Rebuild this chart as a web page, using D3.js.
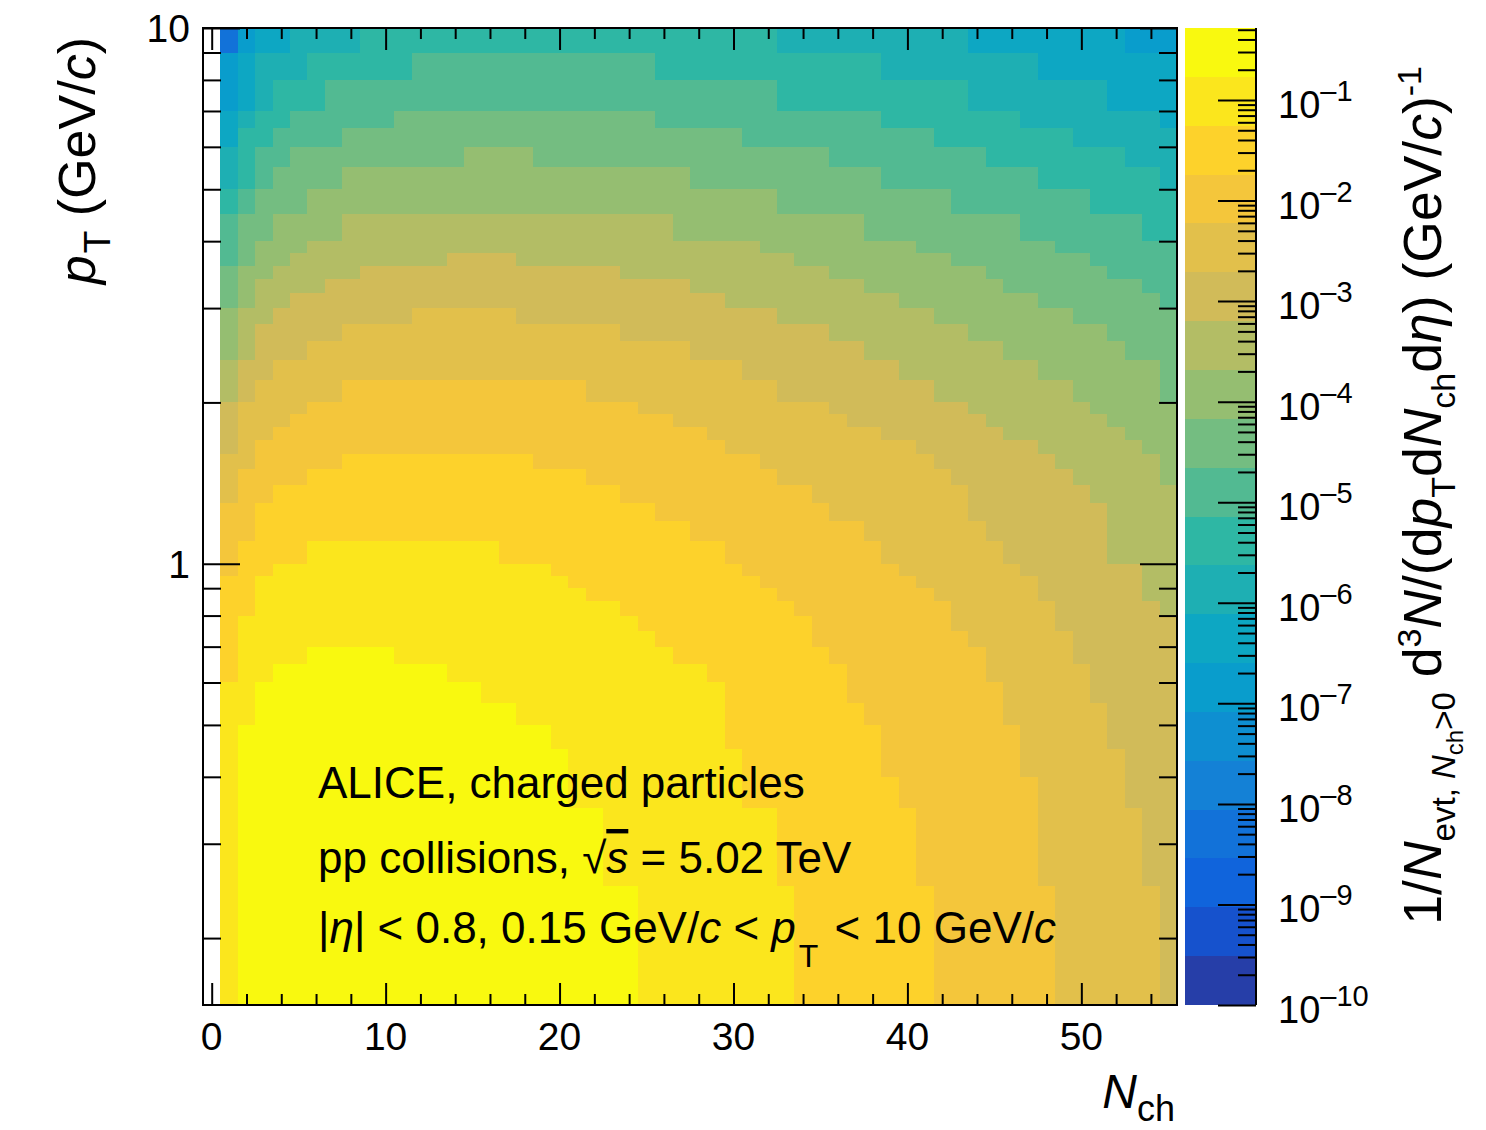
<!DOCTYPE html>
<html><head><meta charset="utf-8">
<script src="https://cdn.jsdelivr.net/npm/d3@7"></script>
<style>
body{margin:0;background:#fff}
text{font-family:"Liberation Sans",Arial,Helvetica,sans-serif;fill:#000}
</style>
</head><body>
<svg id="chart" width="1486" height="1130"></svg>
<script>
// ---------------- DATA ----------------
// Nch bins (integer, width 1); Nch = 0 bin is empty
const nchBins = [1,2,3,4,5,6,7,8,9,10,11,12,13,14,15,16,17,18,19,20,21,22,23,24,25,26,27,28,29,30,31,32,33,34,35,36,37,38,39,40,41,42,43,44,45,46,47,48,49,50,51,52,53,54,55];
// pT bin edges (GeV/c)
const ptEdges = [0.15,0.2,0.25,0.3,0.35,0.4,0.45,0.5,0.55,0.6,0.65,0.7,0.75,0.8,0.85,0.9,0.95,1.0,1.1,1.2,1.3,1.4,1.5,1.6,1.7,1.8,1.9,2.0,2.2,2.4,2.6,2.8,3.0,3.2,3.4,3.6,3.8,4.0,4.5,5.0,5.5,6.0,6.5,7.0,8.0,9.0,10.0];
// Yield per cell, read off the picture as its colour level (0..19 = 20 log-spaced contour levels),
// run-length coded along Nch = 1..55 : "<level><count>", one string per pT bin, lowest pT first.
const levelRows = [
 "i1 j23 i9 h8 g7 f6 e1",
 "i1 j23 i9 h8 g7 f6 e1",
 "i1 j21 i10 h8 g7 f6 e2",
 "i1 j21 i10 h8 g7 f6 e2",
 "i1 j19 i10 h9 g8 f5 e3",
 "i1 j19 i10 h8 g8 f6 e3",
 "i1 j18 i10 h9 g8 f5 e4",
 "i2 j15 i12 h8 g8 f6 e4",
 "i2 j13 i14 h7 g9 f5 e5",
 "h1 i2 j10 i15 h8 g8 f6 e5",
 "h1 i4 j5 i16 h9 g9 f5 e6",
 "h1 i24 h9 g9 f6 e6",
 "h1 i23 h10 g8 f6 e7",
 "h2 i21 h10 g9 f6 e6 d1",
 "h2 i19 h11 g9 f6 e6 d2",
 "h2 i18 h11 g9 f7 e6 d2",
 "g1 h2 i16 h11 g9 f7 e7 d2",
 "g1 h4 i11 h13 g9 f7 e6 d4",
 "g2 h25 g10 f7 e7 d4",
 "g2 h23 g10 f8 e8 d4",
 "f1 g2 h20 g11 f9 e7 d5",
 "f1 g4 h16 g11 f10 e7 d5 c1",
 "f2 g5 h11 g13 f10 e7 d6 c1",
 "e1 f1 g27 f11 e7 d6 c2",
 "e1 f2 g25 f10 e7 d7 c3",
 "e1 f3 g22 f10 e8 d7 c4",
 "e1 f4 g19 f11 e8 d7 c5",
 "d1 e1 f5 g14 f11 e9 d8 c5 b1",
 "d1 e2 f27 e9 d8 c7 b1",
 "c1 d1 e3 f22 e10 d8 c7 b3",
 "c1 d1 e5 f16 e12 d8 c8 b4",
 "c1 d2 e8 f6 e15 d9 c8 b6",
 "b1 c1 d2 e25 d10 c8 b7 a1",
 "b1 c1 d4 e21 d10 c8 b8 a2",
 "b1 c2 d5 e15 d12 c9 b7 a4",
 "a1 b1 c2 d9 e4 d16 c9 b8 a5",
 "a1 b1 c3 d26 c9 b8 a7",
 "a1 b2 c4 d19 c11 b9 a7 92",
 "91 a1 b3 c27 b10 a8 95",
 "81 91 a1 b4 c20 b11 a9 97 81",
 "81 91 a2 b10 c4 b17 a9 98 83",
 "71 92 a4 b23 a11 98 86",
 "71 81 92 a6 b15 a13 98 88 71",
 "61 71 81 93 a26 911 88 74",
 "61 71 83 96 a14 913 89 78",
 "31 61 72 84 924 811 79 63"
];
// colour (z) axis
const zMin = 1e-10, zMax = 0.52, nContours = 20;
const zMajorTicks = [1e-10,1e-9,1e-8,1e-7,1e-6,1e-5,1e-4,1e-3,1e-2,1e-1];
const zMajorExp   = ["10","9","8","7","6","5","4","3","2","1"];
const xMajorTicks = [0,10,20,30,40,50];
const xMinorTicks = [2,4,6,8,12,14,16,18,22,24,26,28,32,34,36,38,42,44,46,48,52,54];
const yMajorTicks = [1,10];
const yMinorTicks = [0.2,0.3,0.4,0.5,0.6,0.7,0.8,0.9,2,3,4,5,6,7,8,9];
const yTickLabels = ["1","10"];

// ---------------- PALETTE (ROOT kBird) ----------------
const bStops=[0,.125,.25,.375,.5,.625,.75,.875,1];
const bR=[0.2082,0.0592,0.0780,0.0232,0.1802,0.5301,0.8186,0.9956,0.9764];
const bG=[0.1664,0.3599,0.5041,0.6419,0.7178,0.7492,0.7328,0.7862,0.9832];
const bB=[0.5293,0.8684,0.8385,0.7914,0.6425,0.4662,0.3499,0.1968,0.0539];
const pal=[];
for(let g=1;g<bStops.length;g++){
  const n=Math.floor(255*bStops[g])-Math.floor(255*bStops[g-1]);
  for(let c=0;c<n;c++){
    const f=c/n;
    pal.push(d3.rgb(255*(bR[g-1]+f*(bR[g]-bR[g-1])),255*(bG[g-1]+f*(bG[g]-bG[g-1])),255*(bB[g-1]+f*(bB[g]-bB[g-1]))).formatHex());
  }
}
const bandColors=d3.range(nContours).map(b=>pal[Math.floor((b+0.99)*pal.length/nContours)]);
const lz0=Math.log10(zMin), lz1=Math.log10(zMax), dl=(lz1-lz0)/nContours;
const zEdges=d3.range(nContours+1).map(k=>Math.pow(10,lz0+k*dl));
const color=d3.scaleThreshold().domain(zEdges.slice(1,-1)).range(bandColors);

// decode cells
const cells=[];
levelRows.forEach((row,i)=>{
  let n=0;
  row.split(" ").forEach(tok=>{
    const lev=parseInt(tok[0],20), cnt=+tok.slice(1);
    for(let k=0;k<cnt;k++){
      cells.push({nch:nchBins[n],lo:ptEdges[i],hi:ptEdges[i+1],z:Math.pow(10,lz0+(lev+0.5)*dl)});
      n++;
    }
  });
});

// ---------------- SCALES ----------------
const F={l:203,r:1177,t:28,b:1005};
const x=d3.scaleLinear().domain([-0.5,55.5]).range([F.l,F.r]);
const y=d3.scaleLog().domain([0.15,10]).range([F.b,F.t]);
const CB={l:1185,r:1256};
const zs=d3.scaleLog().domain([zMin,zMax]).range([F.b,F.t]);

const svg=d3.select("#chart");
svg.append("rect").attr("width",1486).attr("height",1130).attr("fill","#fff");

// heat map
svg.append("g").attr("shape-rendering","crispEdges").selectAll("rect").data(cells).join("rect")
  .attr("x",d=>x(d.nch-0.5)).attr("width",d=>x(d.nch+0.5)-x(d.nch-0.5))
  .attr("y",d=>y(d.hi)).attr("height",d=>y(d.lo)-y(d.hi))
  .attr("fill",d=>color(d.z));

// axes ticks (inside, on all four sides)
function ax(gen,tx,ty,vals,size){
  const g=svg.append("g").attr("transform",`translate(${tx},${ty})`)
    .call(gen.tickValues(vals).tickSize(size).tickFormat(""));
  g.select(".domain").remove();
  g.selectAll(".tick line").attr("stroke","#000").attr("stroke-width",2);
  return g;
}
ax(d3.axisBottom(x),0,F.b,xMajorTicks,-22);
ax(d3.axisBottom(x),0,F.b,xMinorTicks,-11);
ax(d3.axisTop(x),0,F.t,xMajorTicks,-22);
ax(d3.axisTop(x),0,F.t,xMinorTicks,-11);
ax(d3.axisLeft(y),F.l,0,yMajorTicks,-37);
ax(d3.axisLeft(y),F.l,0,yMinorTicks,-18);
ax(d3.axisRight(y),F.r,0,yMajorTicks,-37);
ax(d3.axisRight(y),F.r,0,yMinorTicks,-18);

// frame
svg.append("rect").attr("x",F.l).attr("y",F.t).attr("width",F.r-F.l).attr("height",F.b-F.t)
  .attr("fill","none").attr("stroke","#000").attr("stroke-width",2);

// tick labels
svg.append("g").selectAll("text").data(xMajorTicks).join("text")
  .attr("x",d=>x(d)).attr("y",1050).attr("text-anchor","middle").attr("font-size",39).text(d=>d);
svg.append("g").selectAll("text").data(yMajorTicks).join("text")
  .attr("x",190).attr("y",d=>y(d)+14).attr("text-anchor","end").attr("font-size",39)
  .text((d,i)=>yTickLabels[i]);

// rich text helper
function rich(t,parts,base){
  let cur=0;
  parts.forEach(p=>{
    const s=t.append("tspan").text(p.t).attr("font-size",p.s||base);
    const o=p.o||0;
    if(o!==cur){s.attr("dy",o-cur);cur=o;}
    if(p.i) s.attr("font-style","italic");
    if(p.ol) s.attr("text-decoration","overline");
    if(p.dx) s.attr("dx",p.dx);
  });
  return t;
}

// axis titles
rich(svg.append("text").attr("x",1175).attr("y",1108).attr("text-anchor","end"),
  [{t:"N",i:1},{t:"ch",s:36,o:13}],48);
rich(svg.append("text").attr("transform","translate(95,37) rotate(-90)").attr("text-anchor","end"),
  [{t:"p",i:1},{t:"T",s:37,o:15,dx:2},{t:" (GeV/"},{t:"c",i:1},{t:")"}],52);

// colour bar
svg.append("g").attr("shape-rendering","crispEdges").selectAll("rect").data(d3.range(nContours)).join("rect")
  .attr("x",CB.l).attr("width",CB.r-CB.l)
  .attr("y",k=>zs(zEdges[k+1])).attr("height",k=>zs(zEdges[k])-zs(zEdges[k+1]))
  .attr("fill",k=>color(Math.sqrt(zEdges[k]*zEdges[k+1])));
const zMinor=[];
zMajorTicks.forEach(v=>{[2,3,4,5,6,7,8,9].forEach(m=>{if(v*m<=zMax)zMinor.push(v*m);});});
function zax(vals,size){
  const g=svg.append("g").attr("transform",`translate(${CB.r},0)`)
   .call(d3.axisRight(zs).tickValues(vals).tickSize(size).tickFormat(""));
  g.select(".domain").remove();
  g.selectAll(".tick line").attr("stroke","#000").attr("stroke-width",2);
}
zax(zMajorTicks,-38); zax(zMinor,-18);
svg.append("line").attr("x1",CB.r).attr("x2",CB.r).attr("y1",F.t).attr("y2",F.b).attr("stroke","#000").attr("stroke-width",2);
zMajorTicks.forEach((v,i)=>{
  rich(svg.append("text").attr("x",1278).attr("y",zs(v)+18),
    [{t:"10"},{t:"\u2013"+zMajorExp[i],s:29,o:-17}],38);
});
// colour-bar title
rich(svg.append("text").attr("transform","translate(1441,66) rotate(-90)").attr("text-anchor","end"),
 [{t:"1/"},{t:"N",i:1},{t:"evt, ",s:33,o:14},{t:"N",s:33,o:14,i:1},{t:"ch",s:24,o:22},{t:">0",s:33,o:14},
  {t:" d",o:0},{t:"3",s:34,o:-20},{t:"N",i:1,o:0},{t:"/(d"},{t:"p",i:1},{t:"T",s:34,o:14},
  {t:"d",o:0},{t:"N",i:1},{t:"ch",s:34,o:14},{t:"d",o:0},{t:"\u03B7",i:1},{t:") (GeV/"},{t:"c",i:1},{t:")"},
  {t:"-1",s:34,o:-20}],53.5);

// legend text
svg.append("text").attr("x",318).attr("y",798).attr("font-size",44).text("ALICE, charged particles");
rich(svg.append("text").attr("x",318).attr("y",873),
 [{t:"pp collisions, "},{t:"\u221A"},{t:"s",i:1,ol:1},{t:" = 5.02 TeV"}],44);
rich(svg.append("text").attr("x",318).attr("y",943),
 [{t:"|"},{t:"\u03B7",i:1},{t:"| < 0.8, 0.15 GeV/"},{t:"c",i:1},{t:" < "},{t:"p",i:1},{t:"T",s:32,o:24,dx:3},{t:" < 10 GeV/",o:0,dx:4},{t:"c",i:1}],44);
</script>
</body></html>
